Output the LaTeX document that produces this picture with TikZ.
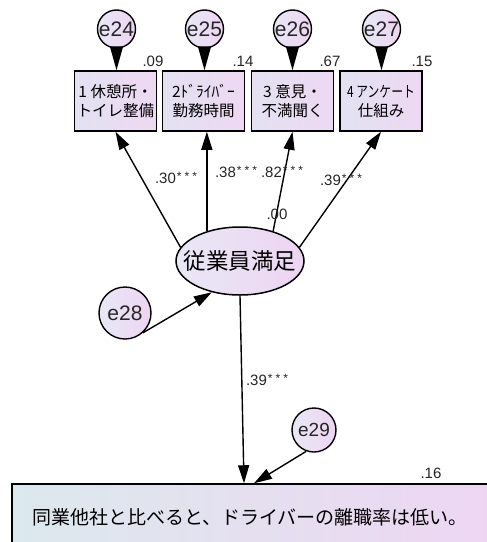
\documentclass[tikz,border=0pt]{standalone}
\usepackage{fontspec}
\setmainfont{Liberation Sans}
\newfontfamily\jp{Noto Sans CJK JP}
\usetikzlibrary{arrows.meta,calc,shapes.geometric}
\definecolor{boxL}{RGB}{226,226,242}
\definecolor{boxR}{RGB}{238,216,242}
\definecolor{botL}{RGB}{220,233,238}
\definecolor{botR}{RGB}{238,214,242}
\definecolor{cirL}{RGB}{232,232,246}
\definecolor{cirR}{RGB}{238,212,242}
\newcommand{\stars}{\hspace{1pt}\raisebox{3.5pt}{\fontsize{12}{12}\selectfont*\hspace{3pt}*\hspace{3pt}*}}
\begin{document}
\begin{tikzpicture}[x=1pt,y=-1pt,
  obsbox/.style={draw,line width=1.5pt,minimum width=82pt,minimum height=60pt,
    left color=boxL,right color=boxR,align=center,inner sep=1pt,
    font=\jp\fontsize{15.5}{19}\selectfont},
  errc/.style={circle,draw,line width=1.4pt,inner sep=0pt,
    left color=cirL,right color=cirR,text=black!85,font=\fontsize{21}{21}\selectfont},
  latent/.style={ellipse,draw,line width=1.5pt,minimum width=128pt,minimum height=68pt,
    left color=cirL,right color=cirR,inner sep=0pt,font=\jp\fontsize{22.5}{23}\selectfont},
  patharr/.style={line width=1.4pt,-{Triangle[length=18pt,width=11pt]}},
  wedge/.style={line width=1.4pt,-{Triangle[length=24pt,width=13pt]}},
  coef/.style={inner sep=0pt,text=black!85,font=\fontsize{15}{15}\selectfont}]
\useasboundingbox (0,0) rectangle (487,542);
\fill[white] (0,0) rectangle (487,542);

% observed boxes
\node[obsbox] (b1) at (115.5,101) {1 休憩所・\\トイレ整備};
\node[obsbox] (b2) at (203.5,101) {2ﾄﾞﾗｲﾊﾞｰ\\勤務時間};
\node[obsbox] (b3) at (292.5,101) {3 意見・\\不満聞く};
\node[obsbox] (b4) at (381,101) {\scalebox{0.76}[1]{4 アンケート}\\仕組み};

% error circles on top
\node[errc,minimum size=35pt] (e24) at (116.5,29) {e24};
\node[errc,minimum size=35pt] (e25) at (204.5,29) {e25};
\node[errc,minimum size=35pt] (e26) at (292.5,29) {e26};
\node[errc,minimum size=35pt] (e27) at (381.5,29) {e27};

\draw[wedge] (e24) -- (e24 |- b1.north);
\draw[wedge] (e25) -- (e25 |- b2.north);
\draw[wedge] (e26) -- (e26 |- b3.north);
\draw[wedge] (e27) -- (e27 |- b4.north);

\node[coef] (r1) at (153,61) {.09};
\node[coef] (r2) at (243,61) {.14};
\node[coef] (r3) at (330,61) {.67};
\node[coef] (r4) at (422,61) {.15};

% latent
\node[latent] (sat) at (240,261) {\makebox[0pt]{従業員満足}};

\draw[patharr] (sat.167) -- (b1.south);
\draw[patharr] (sat.138) -- (sat.138 |- b2.south);
\draw[patharr] (sat.42) -- (b3.south);
\draw[patharr] (sat.13) -- (b4.south);

\node[coef] (c1) at (176,178) {.30\stars};
\node[coef] (c2) at (236,172) {.38\stars};
\node[coef] (c3) at (282,172) {.82\stars};
\node[coef] (c4) at (341,180) {.39\stars};
\node[coef] (c0) at (277,214) {.00};

% e28
\node[errc,minimum size=52pt] (e28) at (125,313) {e28};
\draw[patharr] (e28.312) -- (sat.228);

% bottom box
\node[draw,line width=1.5pt,minimum width=484pt,minimum height=66pt,
  left color=botL,right color=botR,inner sep=0pt,
  font=\jp\fontsize{19}{20}\selectfont] (bot) at (254,517)
  {\hspace*{-8pt}同業他社と比べると、ドライバーの離職率は低い。};

\draw[patharr] (sat.south) -- ($(bot.north)+(-10,0)$);
\node[coef] (c5) at (267,380) {.39\stars};

% e29
\node[errc,minimum size=44pt,font=\fontsize{19}{19}\selectfont] (e29) at (314,430) {e29};
\draw[patharr] (e29.250) -- (bot.north);
\node[coef] (r5) at (431,473) {.16};
\end{tikzpicture}
\end{document}
